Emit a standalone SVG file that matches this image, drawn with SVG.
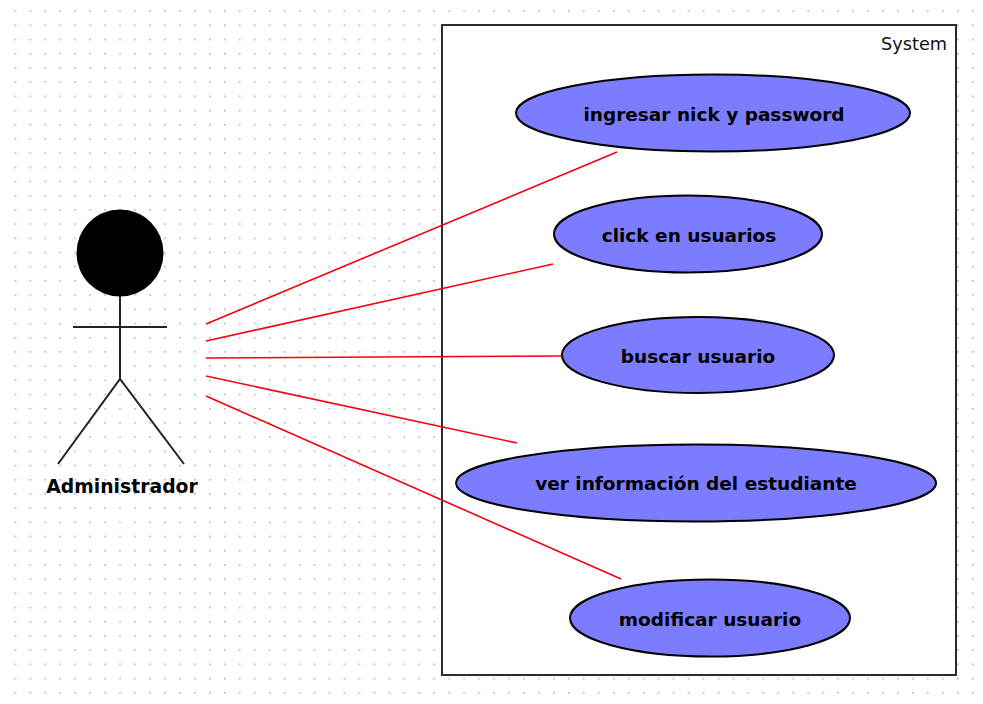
<svg xmlns="http://www.w3.org/2000/svg" width="983" height="704" viewBox="0 0 983 704">
<style>
.uc{fill:#7c7cff;stroke:#000;stroke-width:2}
.uct{font-family:"DejaVu Sans",sans-serif;font-weight:bold;font-size:18.5px;fill:#000;text-anchor:middle}
.act{fill:none;stroke:#222;stroke-width:2}
.con{stroke:#f5000f;stroke-width:1.6;fill:none}
</style>
<defs>
<pattern id="grid" x="14.5" y="10.3" width="14.96" height="14.2" patternUnits="userSpaceOnUse">
<rect x="0" y="0" width="1.6" height="1.6" fill="#b0b0b0"/>
</pattern>
</defs>
<rect width="983" height="704" fill="#fff"/>
<rect id="grid-bg" x="14" y="10" width="969" height="686" fill="url(#grid)"/>
<g id="system">
<rect x="442" y="25" width="514" height="650" fill="#fff" stroke="#2b2b2b" stroke-width="2"/>
<text x="947" y="50" font-family="'DejaVu Sans',sans-serif" font-size="17.7" text-anchor="end" fill="#111">System</text>
</g>
<g id="connectors">
<line class="con" x1="206" y1="324" x2="617" y2="152"/>
<line class="con" x1="206" y1="341" x2="553" y2="264"/>
<line class="con" x1="206" y1="358" x2="562" y2="356"/>
<line class="con" x1="206" y1="376" x2="517" y2="443"/>
<line class="con" x1="206" y1="396" x2="621" y2="579"/>
</g>
<g id="actor">
<circle cx="120" cy="253" r="43.5" fill="#000"/>
<line class="act" x1="120" y1="296" x2="120" y2="379"/>
<line class="act" x1="73" y1="327" x2="167" y2="327"/>
<polyline class="act" points="58,464 120,379 184,464"/>
<text x="122" y="493" class="uct" style="font-size:18.8px">Administrador</text>
</g>
<g id="uc1"><ellipse class="uc" cx="713" cy="113" rx="197" ry="38.5"/><text x="714" y="121" class="uct">ingresar nick y password</text></g>
<g id="uc2"><ellipse class="uc" cx="688" cy="234" rx="134" ry="38.5"/><text x="689" y="242" class="uct">click en usuarios</text></g>
<g id="uc3"><ellipse class="uc" cx="698" cy="355" rx="136" ry="38"/><text x="698" y="363" class="uct">buscar usuario</text></g>
<g id="uc4"><ellipse class="uc" cx="696" cy="483" rx="240" ry="38.5"/><text x="696" y="490" class="uct">ver información del estudiante</text></g>
<g id="uc5"><ellipse class="uc" cx="710" cy="618" rx="140" ry="38.5"/><text x="710" y="626" class="uct">modificar usuario</text></g>
</svg>
